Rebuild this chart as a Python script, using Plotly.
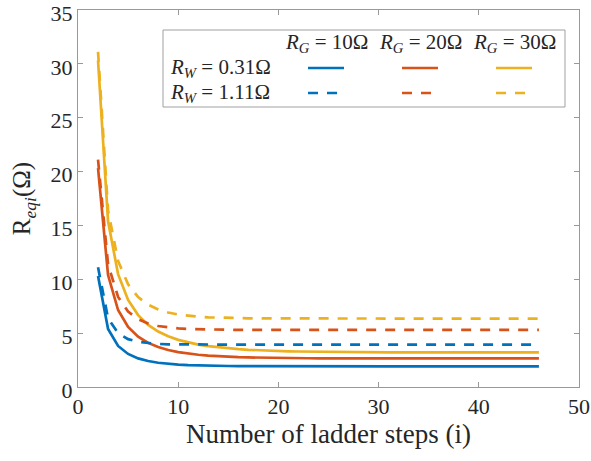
import plotly.graph_objects as go

steps = list(range(2, 47))

# R_W = 0.31 ohm
rw031_rg10 = [10.31, 5.386, 3.811, 3.069, 2.658, 2.410, 2.252, 2.148, 2.078, 2.031,
              1.998, 1.975, 1.959, 1.948, 1.940, 1.935, 1.931, 1.9285, 1.9267, 1.9255,
              1.9246, 1.924, 1.9236, 1.9233, 1.9231, 1.923, 1.9229, 1.9228, 1.9228, 1.9227,
              1.9227, 1.9227, 1.9226, 1.9226, 1.9226, 1.9226, 1.9226, 1.9226, 1.9226, 1.9226,
              1.9226, 1.9226, 1.9226, 1.9226, 1.9226]
rw031_rg20 = [20.31, 10.387, 7.147, 5.575, 4.670, 4.096, 3.710, 3.4395, 3.245, 3.102,
              2.9955, 2.915, 2.854, 2.808, 2.772, 2.745, 2.724, 2.707, 2.694, 2.684,
              2.676, 2.670, 2.666, 2.662, 2.659, 2.657, 2.655, 2.654, 2.653, 2.652,
              2.651, 2.6505, 2.6503, 2.6502, 2.6501, 2.65, 2.65, 2.65, 2.65, 2.65,
              2.65, 2.65, 2.65, 2.65, 2.65]
rw031_rg30 = [30.31, 15.387, 10.480, 8.077, 6.674, 5.769, 5.149, 4.705, 4.377, 4.130,
              3.940, 3.793, 3.677, 3.586, 3.513, 3.455, 3.408, 3.370, 3.340, 3.315,
              3.295, 3.279, 3.266, 3.255, 3.246, 3.239, 3.233, 3.228, 3.224, 3.221,
              3.219, 3.217, 3.215, 3.214, 3.213, 3.212, 3.211, 3.211, 3.210, 3.210,
              3.2095, 3.2093, 3.2091, 3.209, 3.209]

# R_W = 1.11 ohm
rw111_rg10 = [11.11, 6.373, 5.002, 4.444, 4.187, 4.061, 3.998, 3.966, 3.950, 3.9415,
              3.937, 3.935, 3.934, 3.9335, 3.933, 3.933, 3.9328, 3.9327, 3.9326, 3.9326,
              3.9326, 3.9326, 3.9326, 3.9326, 3.9326, 3.9326, 3.9326, 3.9326, 3.9326, 3.9326,
              3.9326, 3.9326, 3.9326, 3.9326, 3.9326, 3.9326, 3.9326, 3.9326, 3.9326, 3.9326,
              3.9326, 3.9326, 3.9326, 3.9326, 3.9326]
rw111_rg20 = [21.11, 11.380, 8.363, 7.007, 6.299, 5.900, 5.666, 5.525, 5.439, 5.386,
              5.353, 5.333, 5.320, 5.312, 5.307, 5.304, 5.302, 5.301, 5.300, 5.2997,
              5.2995, 5.2994, 5.2993, 5.2993, 5.2993, 5.2993, 5.2993, 5.2993, 5.2993, 5.2993,
              5.2993, 5.2993, 5.2993, 5.2993, 5.2993, 5.2993, 5.2993, 5.2993, 5.2993, 5.2993,
              5.2993, 5.2993, 5.2993, 5.2993, 5.2993]
rw111_rg30 = [31.11, 16.383, 11.706, 9.530, 8.343, 7.638, 7.198, 6.915, 6.730, 6.607,
              6.5245, 6.469, 6.4315, 6.406, 6.389, 6.377, 6.369, 6.364, 6.360, 6.357,
              6.355, 6.354, 6.353, 6.352, 6.3515, 6.3512, 6.351, 6.351, 6.351, 6.351,
              6.351, 6.351, 6.351, 6.351, 6.351, 6.351, 6.351, 6.351, 6.351, 6.351,
              6.351, 6.351, 6.351, 6.351, 6.351]

x_ticks = [0, 10, 20, 30, 40, 50]
y_ticks = [0, 5, 10, 15, 20, 25, 30, 35]

col_labels = ["<i>R</i><sub><i>G</i></sub> = 10Ω",
              "<i>R</i><sub><i>G</i></sub> = 20Ω",
              "<i>R</i><sub><i>G</i></sub> = 30Ω"]
row_labels = ["<i>R</i><sub><i>W</i></sub> = 0.31Ω",
              "<i>R</i><sub><i>W</i></sub> = 1.11Ω"]

colors = ["#0072BD", "#D95319", "#EDB120"]
FONT = "Liberation Serif"
TXT = "#262626"
LW = 2.7
DASH = "10px,9px"

fig = go.Figure()
solid = [rw031_rg10, rw031_rg20, rw031_rg30]
dashed = [rw111_rg10, rw111_rg20, rw111_rg30]
for ys, c in zip(solid, colors):
    fig.add_trace(go.Scatter(x=steps, y=ys, mode="lines",
                             line=dict(color=c, width=LW), showlegend=False))
for ys, c in zip(dashed, colors):
    fig.add_trace(go.Scatter(x=steps, y=ys, mode="lines",
                             line=dict(color=c, width=LW, dash=DASH), showlegend=False))

W, H = 591, 461
L, R, T, B = 78, 12, 10, 74
pw, ph = W - L - R, H - T - B

def px(xp):
    return (xp - L) / pw

def py(yp):
    return 1 - (yp - T) / ph

# legend box
fig.add_shape(type="rect", xref="paper", yref="paper",
              x0=px(163), x1=px(565), y0=py(107), y1=py(30),
              line=dict(color="#a0a0a0", width=1), fillcolor="white")

col_centers = [326, 420, 514]
row_ys = [68, 93]
for cx, lab in zip(col_centers, col_labels):
    fig.add_annotation(x=px(cx), y=py(43), xref="paper", yref="paper", text=lab,
                       showarrow=False, font=dict(family=FONT, size=21, color=TXT),
                       xanchor="center", yanchor="middle")
for ry, lab in zip(row_ys, row_labels):
    fig.add_annotation(x=px(168), y=py(ry), xref="paper", yref="paper", text=lab,
                       showarrow=False, font=dict(family=FONT, size=21, color=TXT),
                       xanchor="left", yanchor="middle")
for cx, c in zip(col_centers, colors):
    fig.add_shape(type="line", xref="paper", yref="paper",
                  x0=px(cx - 18), x1=px(cx + 18), y0=py(68), y1=py(68),
                  line=dict(color=c, width=LW))
    fig.add_shape(type="line", xref="paper", yref="paper",
                  x0=px(cx - 18), x1=px(cx + 18), y0=py(93), y1=py(93),
                  line=dict(color=c, width=LW, dash=DASH))

axis_common = dict(showgrid=False, zeroline=False, showline=True, linecolor="#999999",
                   linewidth=1, mirror="ticks", ticks="inside", ticklen=5,
                   tickcolor="#999999", ticklabeloverflow="allow", automargin=False,
                   tickfont=dict(family=FONT, size=22, color=TXT))

fig.update_layout(
    width=W, height=H,
    margin=dict(l=L, r=R, t=T, b=B),
    paper_bgcolor="white", plot_bgcolor="white",
    xaxis=dict(range=[0, 50], tickvals=x_ticks,
               title=dict(text="Number of ladder steps (i)",
                          font=dict(family=FONT, size=27, color=TXT), standoff=3),
               **axis_common),
    yaxis=dict(range=[0, 35], tickvals=y_ticks, ticklabelshift=3,
               title=dict(text="R<sub><i>eqi</i></sub>(Ω)",
                          font=dict(family=FONT, size=25, color=TXT), standoff=12),
               **axis_common),
)

fig.write_html("out.html", config={"displayModeBar": False},
               post_script="document.body.style.margin='0px';")
